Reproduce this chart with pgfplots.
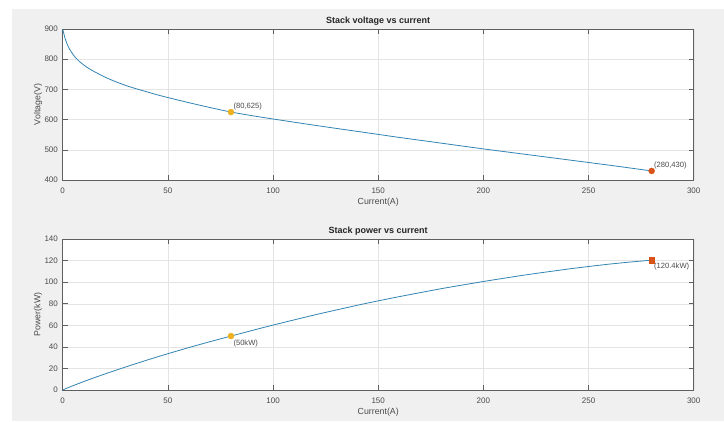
\documentclass[border=0pt]{standalone}
\usepackage{pgfplots}
\pgfplotsset{compat=1.18}
\usepackage{fontspec}
\setmainfont{Liberation Sans}
\definecolor{bgc}{RGB}{240,240,240}
\definecolor{curve}{RGB}{50,132,178}
\definecolor{myyellow}{RGB}{237,177,32}
\definecolor{myorange}{RGB}{217,83,25}
\definecolor{axc}{RGB}{95,95,95}
\definecolor{txc}{RGB}{75,75,75}
\definecolor{gridc}{RGB}{228,228,228}
\pgfplotsset{
  mystyle/.style={
    scale only axis, width=631pt, height=151pt,
    xmin=0, xmax=300, xtick={0,50,...,300},
    axis background/.style={fill=white},
    axis line style={axc, line width=0.5pt},
    tick style={axc, line width=0.5pt},
    major tick length=5pt,
    tick align=inside, tick pos=both,
    grid=major, major grid style={gridc, line width=0.4pt},
    /pgf/number format/assume math mode=true,
    ticklabel style={font=\fontsize{8}{9}\selectfont, text=txc},
    xticklabel style={anchor=center, yshift=-11pt},
    yticklabel style={anchor=east, xshift=-1.3pt},
    every axis x label/.style={at={(axis description cs:0.5,-0.1457)}, anchor=center, font=\fontsize{8.8}{10}\selectfont, text=txc},
    every axis y label/.style={at={(axis description cs:-0.0391,0.5)}, rotate=90, anchor=center, font=\fontsize{8.8}{10}\selectfont, text=txc},
    every axis title/.style={at={(axis description cs:0.5,1.055)}, anchor=center, font=\bfseries\fontsize{9}{10}\selectfont, text=black!85},
    clip=false,
  }
}
\begin{document}
\begin{tikzpicture}
\useasboundingbox (0,0) rectangle (724pt,421pt);
\fill[white] (0,0) rectangle (724pt,421pt);
\fill[bgc] (12pt,0) rectangle (724pt,412pt);
\begin{axis}[mystyle, at={(62.7pt,241pt)}, anchor=south west,
  ymin=400, ymax=900, ytick={400,500,...,900},
  title={Stack voltage vs current}, xlabel={Current(A)}, ylabel={Voltage(V)}]
\addplot[curve, line width=0.8pt, smooth, tension=0.3] coordinates {
(0,900) (1,872) (2,852) (3,837) (4,825) (5,815) (6,806) (8,792) (10,781)
(12,771) (15,759) (20,741) (25,726) (30,713) (35,702) (40,692) (45,682)
(50,673) (60,656) (70,640) (80,625) (90,613) (100,602) (120,581) (140,561)
(150,551) (160,541) (180,522) (200,503) (220,485) (240,467) (250,458)
(260,449) (270,439.5) (280,430)};
\addplot[only marks, mark=*, mark size=3pt, myyellow] coordinates {(80,625)}
  node[anchor=west, xshift=-1pt, yshift=6pt, font=\fontsize{7.6}{9}\selectfont, text=txc] {(80,625)};
\addplot[only marks, mark=*, mark size=3pt, myorange] coordinates {(280,430)}
  node[anchor=west, xshift=-1pt, yshift=5pt, font=\fontsize{7.6}{9}\selectfont, text=txc] {(280,430)};
\end{axis}
\begin{axis}[mystyle, at={(62.7pt,31pt)}, anchor=south west,
  ymin=0, ymax=140, ytick={0,20,...,140},
  title={Stack power vs current}, xlabel={Current(A)}, ylabel={Power(kW)}]
\addplot[curve, line width=0.8pt, smooth, tension=0.3] coordinates {
(0,0) (1,0.872) (2,1.704) (3,2.511) (4,3.300) (5,4.075) (6,4.836) (8,6.336)
(10,7.810) (12,9.252) (15,11.385) (20,14.820) (25,18.150) (30,21.390)
(35,24.570) (40,27.680) (45,30.690) (50,33.650) (60,39.360) (70,44.800)
(80,50.000) (90,55.170) (100,60.200) (120,69.720) (140,78.540) (150,82.650)
(160,86.560) (180,93.960) (200,100.600) (220,106.700) (240,112.080)
(250,114.500) (260,116.740) (270,118.665) (280,120.400)};
\addplot[only marks, mark=*, mark size=3pt, myyellow] coordinates {(80,50)}
  node[anchor=west, xshift=-1pt, yshift=-7.5pt, font=\fontsize{7.6}{9}\selectfont, text=txc] {(50kW)};
\addplot[only marks, mark=square*, mark size=2.8pt, myorange] coordinates {(280,120.4)}
  node[anchor=west, xshift=-1pt, yshift=-6.5pt, font=\fontsize{7.6}{9}\selectfont, text=txc] {(120.4kW)};
\end{axis}
\end{tikzpicture}
\end{document}
